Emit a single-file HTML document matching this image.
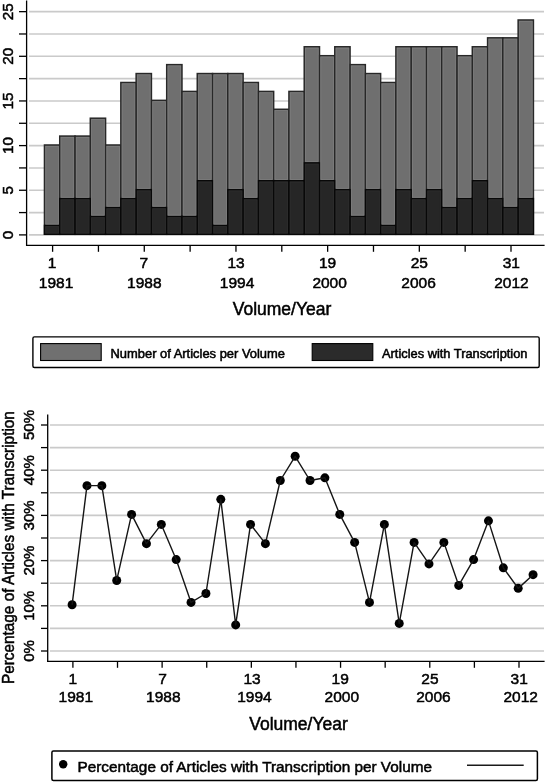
<!DOCTYPE html><html><head><meta charset="utf-8"><title>Articles with Transcription</title>
<style>html,body{margin:0;padding:0;background:#fff;}svg{display:block;} text{font-family:'Liberation Sans',Arial,Helvetica,sans-serif;fill:#000;stroke:#000;stroke-width:0.5px;}</style></head><body>
<svg width="545" height="782" viewBox="0 0 545 782">
<line x1="29" y1="234.90" x2="544" y2="234.90" stroke="#cacaca" stroke-width="1.6"/>
<line x1="29" y1="212.58" x2="544" y2="212.58" stroke="#cacaca" stroke-width="1.6"/>
<line x1="29" y1="190.25" x2="544" y2="190.25" stroke="#cacaca" stroke-width="1.6"/>
<line x1="29" y1="167.93" x2="544" y2="167.93" stroke="#cacaca" stroke-width="1.6"/>
<line x1="29" y1="145.60" x2="544" y2="145.60" stroke="#cacaca" stroke-width="1.6"/>
<line x1="29" y1="123.28" x2="544" y2="123.28" stroke="#cacaca" stroke-width="1.6"/>
<line x1="29" y1="100.95" x2="544" y2="100.95" stroke="#cacaca" stroke-width="1.6"/>
<line x1="29" y1="78.62" x2="544" y2="78.62" stroke="#cacaca" stroke-width="1.6"/>
<line x1="29" y1="56.30" x2="544" y2="56.30" stroke="#cacaca" stroke-width="1.6"/>
<line x1="29" y1="33.98" x2="544" y2="33.98" stroke="#cacaca" stroke-width="1.6"/>
<line x1="29" y1="11.65" x2="544" y2="11.65" stroke="#cacaca" stroke-width="1.6"/>
<rect x="44.46" y="145.00" width="15.28" height="89.30" fill="#6f6f6f" stroke="#282828" stroke-width="1.5"/>
<rect x="59.74" y="136.07" width="15.28" height="98.23" fill="#6f6f6f" stroke="#282828" stroke-width="1.5"/>
<rect x="75.02" y="136.07" width="15.28" height="98.23" fill="#6f6f6f" stroke="#282828" stroke-width="1.5"/>
<rect x="90.30" y="118.21" width="15.28" height="116.09" fill="#6f6f6f" stroke="#282828" stroke-width="1.5"/>
<rect x="105.58" y="145.00" width="15.28" height="89.30" fill="#6f6f6f" stroke="#282828" stroke-width="1.5"/>
<rect x="120.86" y="82.49" width="15.28" height="151.81" fill="#6f6f6f" stroke="#282828" stroke-width="1.5"/>
<rect x="136.14" y="73.56" width="15.28" height="160.74" fill="#6f6f6f" stroke="#282828" stroke-width="1.5"/>
<rect x="151.42" y="100.35" width="15.28" height="133.95" fill="#6f6f6f" stroke="#282828" stroke-width="1.5"/>
<rect x="166.70" y="64.63" width="15.28" height="169.67" fill="#6f6f6f" stroke="#282828" stroke-width="1.5"/>
<rect x="181.98" y="91.42" width="15.28" height="142.88" fill="#6f6f6f" stroke="#282828" stroke-width="1.5"/>
<rect x="197.26" y="73.56" width="15.28" height="160.74" fill="#6f6f6f" stroke="#282828" stroke-width="1.5"/>
<rect x="212.54" y="73.56" width="15.28" height="160.74" fill="#6f6f6f" stroke="#282828" stroke-width="1.5"/>
<rect x="227.82" y="73.56" width="15.28" height="160.74" fill="#6f6f6f" stroke="#282828" stroke-width="1.5"/>
<rect x="243.10" y="82.49" width="15.28" height="151.81" fill="#6f6f6f" stroke="#282828" stroke-width="1.5"/>
<rect x="258.38" y="91.42" width="15.28" height="142.88" fill="#6f6f6f" stroke="#282828" stroke-width="1.5"/>
<rect x="273.66" y="109.28" width="15.28" height="125.02" fill="#6f6f6f" stroke="#282828" stroke-width="1.5"/>
<rect x="288.94" y="91.42" width="15.28" height="142.88" fill="#6f6f6f" stroke="#282828" stroke-width="1.5"/>
<rect x="304.22" y="46.77" width="15.28" height="187.53" fill="#6f6f6f" stroke="#282828" stroke-width="1.5"/>
<rect x="319.50" y="55.70" width="15.28" height="178.60" fill="#6f6f6f" stroke="#282828" stroke-width="1.5"/>
<rect x="334.78" y="46.77" width="15.28" height="187.53" fill="#6f6f6f" stroke="#282828" stroke-width="1.5"/>
<rect x="350.06" y="64.63" width="15.28" height="169.67" fill="#6f6f6f" stroke="#282828" stroke-width="1.5"/>
<rect x="365.34" y="73.56" width="15.28" height="160.74" fill="#6f6f6f" stroke="#282828" stroke-width="1.5"/>
<rect x="380.62" y="82.49" width="15.28" height="151.81" fill="#6f6f6f" stroke="#282828" stroke-width="1.5"/>
<rect x="395.90" y="46.77" width="15.28" height="187.53" fill="#6f6f6f" stroke="#282828" stroke-width="1.5"/>
<rect x="411.18" y="46.77" width="15.28" height="187.53" fill="#6f6f6f" stroke="#282828" stroke-width="1.5"/>
<rect x="426.46" y="46.77" width="15.28" height="187.53" fill="#6f6f6f" stroke="#282828" stroke-width="1.5"/>
<rect x="441.74" y="46.77" width="15.28" height="187.53" fill="#6f6f6f" stroke="#282828" stroke-width="1.5"/>
<rect x="457.02" y="55.70" width="15.28" height="178.60" fill="#6f6f6f" stroke="#282828" stroke-width="1.5"/>
<rect x="472.30" y="46.77" width="15.28" height="187.53" fill="#6f6f6f" stroke="#282828" stroke-width="1.5"/>
<rect x="487.58" y="37.84" width="15.28" height="196.46" fill="#6f6f6f" stroke="#282828" stroke-width="1.5"/>
<rect x="502.86" y="37.84" width="15.28" height="196.46" fill="#6f6f6f" stroke="#282828" stroke-width="1.5"/>
<rect x="518.14" y="19.98" width="15.28" height="214.32" fill="#6f6f6f" stroke="#282828" stroke-width="1.5"/>
<rect x="44.46" y="225.37" width="15.28" height="8.93" fill="#262626" stroke="#080808" stroke-width="1.4"/>
<rect x="59.74" y="198.58" width="15.28" height="35.72" fill="#262626" stroke="#080808" stroke-width="1.4"/>
<rect x="75.02" y="198.58" width="15.28" height="35.72" fill="#262626" stroke="#080808" stroke-width="1.4"/>
<rect x="90.30" y="216.44" width="15.28" height="17.86" fill="#262626" stroke="#080808" stroke-width="1.4"/>
<rect x="105.58" y="207.51" width="15.28" height="26.79" fill="#262626" stroke="#080808" stroke-width="1.4"/>
<rect x="120.86" y="198.58" width="15.28" height="35.72" fill="#262626" stroke="#080808" stroke-width="1.4"/>
<rect x="136.14" y="189.65" width="15.28" height="44.65" fill="#262626" stroke="#080808" stroke-width="1.4"/>
<rect x="151.42" y="207.51" width="15.28" height="26.79" fill="#262626" stroke="#080808" stroke-width="1.4"/>
<rect x="166.70" y="216.44" width="15.28" height="17.86" fill="#262626" stroke="#080808" stroke-width="1.4"/>
<rect x="181.98" y="216.44" width="15.28" height="17.86" fill="#262626" stroke="#080808" stroke-width="1.4"/>
<rect x="197.26" y="180.72" width="15.28" height="53.58" fill="#262626" stroke="#080808" stroke-width="1.4"/>
<rect x="212.54" y="225.37" width="15.28" height="8.93" fill="#262626" stroke="#080808" stroke-width="1.4"/>
<rect x="227.82" y="189.65" width="15.28" height="44.65" fill="#262626" stroke="#080808" stroke-width="1.4"/>
<rect x="243.10" y="198.58" width="15.28" height="35.72" fill="#262626" stroke="#080808" stroke-width="1.4"/>
<rect x="258.38" y="180.72" width="15.28" height="53.58" fill="#262626" stroke="#080808" stroke-width="1.4"/>
<rect x="273.66" y="180.72" width="15.28" height="53.58" fill="#262626" stroke="#080808" stroke-width="1.4"/>
<rect x="288.94" y="180.72" width="15.28" height="53.58" fill="#262626" stroke="#080808" stroke-width="1.4"/>
<rect x="304.22" y="162.86" width="15.28" height="71.44" fill="#262626" stroke="#080808" stroke-width="1.4"/>
<rect x="319.50" y="180.72" width="15.28" height="53.58" fill="#262626" stroke="#080808" stroke-width="1.4"/>
<rect x="334.78" y="189.65" width="15.28" height="44.65" fill="#262626" stroke="#080808" stroke-width="1.4"/>
<rect x="350.06" y="216.44" width="15.28" height="17.86" fill="#262626" stroke="#080808" stroke-width="1.4"/>
<rect x="365.34" y="189.65" width="15.28" height="44.65" fill="#262626" stroke="#080808" stroke-width="1.4"/>
<rect x="380.62" y="225.37" width="15.28" height="8.93" fill="#262626" stroke="#080808" stroke-width="1.4"/>
<rect x="395.90" y="189.65" width="15.28" height="44.65" fill="#262626" stroke="#080808" stroke-width="1.4"/>
<rect x="411.18" y="198.58" width="15.28" height="35.72" fill="#262626" stroke="#080808" stroke-width="1.4"/>
<rect x="426.46" y="189.65" width="15.28" height="44.65" fill="#262626" stroke="#080808" stroke-width="1.4"/>
<rect x="441.74" y="207.51" width="15.28" height="26.79" fill="#262626" stroke="#080808" stroke-width="1.4"/>
<rect x="457.02" y="198.58" width="15.28" height="35.72" fill="#262626" stroke="#080808" stroke-width="1.4"/>
<rect x="472.30" y="180.72" width="15.28" height="53.58" fill="#262626" stroke="#080808" stroke-width="1.4"/>
<rect x="487.58" y="198.58" width="15.28" height="35.72" fill="#262626" stroke="#080808" stroke-width="1.4"/>
<rect x="502.86" y="207.51" width="15.28" height="26.79" fill="#262626" stroke="#080808" stroke-width="1.4"/>
<rect x="518.14" y="198.58" width="15.28" height="35.72" fill="#262626" stroke="#080808" stroke-width="1.4"/>
<rect x="45.81" y="146.35" width="12.58" height="77.67" fill="none" stroke="#7d7d7d" stroke-width="0.8"/>
<rect x="45.81" y="226.72" width="12.58" height="6.23" fill="none" stroke="#2d2d2d" stroke-width="0.8"/>
<rect x="61.09" y="137.42" width="12.58" height="59.81" fill="none" stroke="#7d7d7d" stroke-width="0.8"/>
<rect x="61.09" y="199.93" width="12.58" height="33.02" fill="none" stroke="#2d2d2d" stroke-width="0.8"/>
<rect x="76.37" y="137.42" width="12.58" height="59.81" fill="none" stroke="#7d7d7d" stroke-width="0.8"/>
<rect x="76.37" y="199.93" width="12.58" height="33.02" fill="none" stroke="#2d2d2d" stroke-width="0.8"/>
<rect x="91.65" y="119.56" width="12.58" height="95.53" fill="none" stroke="#7d7d7d" stroke-width="0.8"/>
<rect x="91.65" y="217.79" width="12.58" height="15.16" fill="none" stroke="#2d2d2d" stroke-width="0.8"/>
<rect x="106.93" y="146.35" width="12.58" height="59.81" fill="none" stroke="#7d7d7d" stroke-width="0.8"/>
<rect x="106.93" y="208.86" width="12.58" height="24.09" fill="none" stroke="#2d2d2d" stroke-width="0.8"/>
<rect x="122.21" y="83.84" width="12.58" height="113.39" fill="none" stroke="#7d7d7d" stroke-width="0.8"/>
<rect x="122.21" y="199.93" width="12.58" height="33.02" fill="none" stroke="#2d2d2d" stroke-width="0.8"/>
<rect x="137.49" y="74.91" width="12.58" height="113.39" fill="none" stroke="#7d7d7d" stroke-width="0.8"/>
<rect x="137.49" y="191.00" width="12.58" height="41.95" fill="none" stroke="#2d2d2d" stroke-width="0.8"/>
<rect x="152.77" y="101.70" width="12.58" height="104.46" fill="none" stroke="#7d7d7d" stroke-width="0.8"/>
<rect x="152.77" y="208.86" width="12.58" height="24.09" fill="none" stroke="#2d2d2d" stroke-width="0.8"/>
<rect x="168.05" y="65.98" width="12.58" height="149.11" fill="none" stroke="#7d7d7d" stroke-width="0.8"/>
<rect x="168.05" y="217.79" width="12.58" height="15.16" fill="none" stroke="#2d2d2d" stroke-width="0.8"/>
<rect x="183.33" y="92.77" width="12.58" height="122.32" fill="none" stroke="#7d7d7d" stroke-width="0.8"/>
<rect x="183.33" y="217.79" width="12.58" height="15.16" fill="none" stroke="#2d2d2d" stroke-width="0.8"/>
<rect x="198.61" y="74.91" width="12.58" height="104.46" fill="none" stroke="#7d7d7d" stroke-width="0.8"/>
<rect x="198.61" y="182.07" width="12.58" height="50.88" fill="none" stroke="#2d2d2d" stroke-width="0.8"/>
<rect x="213.89" y="74.91" width="12.58" height="149.11" fill="none" stroke="#7d7d7d" stroke-width="0.8"/>
<rect x="213.89" y="226.72" width="12.58" height="6.23" fill="none" stroke="#2d2d2d" stroke-width="0.8"/>
<rect x="229.17" y="74.91" width="12.58" height="113.39" fill="none" stroke="#7d7d7d" stroke-width="0.8"/>
<rect x="229.17" y="191.00" width="12.58" height="41.95" fill="none" stroke="#2d2d2d" stroke-width="0.8"/>
<rect x="244.45" y="83.84" width="12.58" height="113.39" fill="none" stroke="#7d7d7d" stroke-width="0.8"/>
<rect x="244.45" y="199.93" width="12.58" height="33.02" fill="none" stroke="#2d2d2d" stroke-width="0.8"/>
<rect x="259.73" y="92.77" width="12.58" height="86.60" fill="none" stroke="#7d7d7d" stroke-width="0.8"/>
<rect x="259.73" y="182.07" width="12.58" height="50.88" fill="none" stroke="#2d2d2d" stroke-width="0.8"/>
<rect x="275.01" y="110.63" width="12.58" height="68.74" fill="none" stroke="#7d7d7d" stroke-width="0.8"/>
<rect x="275.01" y="182.07" width="12.58" height="50.88" fill="none" stroke="#2d2d2d" stroke-width="0.8"/>
<rect x="290.29" y="92.77" width="12.58" height="86.60" fill="none" stroke="#7d7d7d" stroke-width="0.8"/>
<rect x="290.29" y="182.07" width="12.58" height="50.88" fill="none" stroke="#2d2d2d" stroke-width="0.8"/>
<rect x="305.57" y="48.12" width="12.58" height="113.39" fill="none" stroke="#7d7d7d" stroke-width="0.8"/>
<rect x="305.57" y="164.21" width="12.58" height="68.74" fill="none" stroke="#2d2d2d" stroke-width="0.8"/>
<rect x="320.85" y="57.05" width="12.58" height="122.32" fill="none" stroke="#7d7d7d" stroke-width="0.8"/>
<rect x="320.85" y="182.07" width="12.58" height="50.88" fill="none" stroke="#2d2d2d" stroke-width="0.8"/>
<rect x="336.13" y="48.12" width="12.58" height="140.18" fill="none" stroke="#7d7d7d" stroke-width="0.8"/>
<rect x="336.13" y="191.00" width="12.58" height="41.95" fill="none" stroke="#2d2d2d" stroke-width="0.8"/>
<rect x="351.41" y="65.98" width="12.58" height="149.11" fill="none" stroke="#7d7d7d" stroke-width="0.8"/>
<rect x="351.41" y="217.79" width="12.58" height="15.16" fill="none" stroke="#2d2d2d" stroke-width="0.8"/>
<rect x="366.69" y="74.91" width="12.58" height="113.39" fill="none" stroke="#7d7d7d" stroke-width="0.8"/>
<rect x="366.69" y="191.00" width="12.58" height="41.95" fill="none" stroke="#2d2d2d" stroke-width="0.8"/>
<rect x="381.97" y="83.84" width="12.58" height="140.18" fill="none" stroke="#7d7d7d" stroke-width="0.8"/>
<rect x="381.97" y="226.72" width="12.58" height="6.23" fill="none" stroke="#2d2d2d" stroke-width="0.8"/>
<rect x="397.25" y="48.12" width="12.58" height="140.18" fill="none" stroke="#7d7d7d" stroke-width="0.8"/>
<rect x="397.25" y="191.00" width="12.58" height="41.95" fill="none" stroke="#2d2d2d" stroke-width="0.8"/>
<rect x="412.53" y="48.12" width="12.58" height="149.11" fill="none" stroke="#7d7d7d" stroke-width="0.8"/>
<rect x="412.53" y="199.93" width="12.58" height="33.02" fill="none" stroke="#2d2d2d" stroke-width="0.8"/>
<rect x="427.81" y="48.12" width="12.58" height="140.18" fill="none" stroke="#7d7d7d" stroke-width="0.8"/>
<rect x="427.81" y="191.00" width="12.58" height="41.95" fill="none" stroke="#2d2d2d" stroke-width="0.8"/>
<rect x="443.09" y="48.12" width="12.58" height="158.04" fill="none" stroke="#7d7d7d" stroke-width="0.8"/>
<rect x="443.09" y="208.86" width="12.58" height="24.09" fill="none" stroke="#2d2d2d" stroke-width="0.8"/>
<rect x="458.37" y="57.05" width="12.58" height="140.18" fill="none" stroke="#7d7d7d" stroke-width="0.8"/>
<rect x="458.37" y="199.93" width="12.58" height="33.02" fill="none" stroke="#2d2d2d" stroke-width="0.8"/>
<rect x="473.65" y="48.12" width="12.58" height="131.25" fill="none" stroke="#7d7d7d" stroke-width="0.8"/>
<rect x="473.65" y="182.07" width="12.58" height="50.88" fill="none" stroke="#2d2d2d" stroke-width="0.8"/>
<rect x="488.93" y="39.19" width="12.58" height="158.04" fill="none" stroke="#7d7d7d" stroke-width="0.8"/>
<rect x="488.93" y="199.93" width="12.58" height="33.02" fill="none" stroke="#2d2d2d" stroke-width="0.8"/>
<rect x="504.21" y="39.19" width="12.58" height="166.97" fill="none" stroke="#7d7d7d" stroke-width="0.8"/>
<rect x="504.21" y="208.86" width="12.58" height="24.09" fill="none" stroke="#2d2d2d" stroke-width="0.8"/>
<rect x="519.49" y="21.33" width="12.58" height="175.90" fill="none" stroke="#7d7d7d" stroke-width="0.8"/>
<rect x="519.49" y="199.93" width="12.58" height="33.02" fill="none" stroke="#2d2d2d" stroke-width="0.8"/>
<line x1="26.6" y1="0.5" x2="26.6" y2="245.9" stroke="#000" stroke-width="1.3"/>
<line x1="26.0" y1="245.3" x2="544.6" y2="245.3" stroke="#000" stroke-width="1.3"/>
<line x1="19" y1="234.90" x2="26.6" y2="234.90" stroke="#000" stroke-width="1.3"/>
<line x1="19" y1="212.58" x2="26.6" y2="212.58" stroke="#000" stroke-width="1.3"/>
<line x1="19" y1="190.25" x2="26.6" y2="190.25" stroke="#000" stroke-width="1.3"/>
<line x1="19" y1="167.93" x2="26.6" y2="167.93" stroke="#000" stroke-width="1.3"/>
<line x1="19" y1="145.60" x2="26.6" y2="145.60" stroke="#000" stroke-width="1.3"/>
<line x1="19" y1="123.28" x2="26.6" y2="123.28" stroke="#000" stroke-width="1.3"/>
<line x1="19" y1="100.95" x2="26.6" y2="100.95" stroke="#000" stroke-width="1.3"/>
<line x1="19" y1="78.62" x2="26.6" y2="78.62" stroke="#000" stroke-width="1.3"/>
<line x1="19" y1="56.30" x2="26.6" y2="56.30" stroke="#000" stroke-width="1.3"/>
<line x1="19" y1="33.98" x2="26.6" y2="33.98" stroke="#000" stroke-width="1.3"/>
<line x1="19" y1="11.65" x2="26.6" y2="11.65" stroke="#000" stroke-width="1.3"/>
<line x1="52.60" y1="245.3" x2="52.60" y2="251.8" stroke="#000" stroke-width="1.3"/>
<line x1="98.44" y1="245.3" x2="98.44" y2="251.8" stroke="#000" stroke-width="1.3"/>
<line x1="144.28" y1="245.3" x2="144.28" y2="251.8" stroke="#000" stroke-width="1.3"/>
<line x1="190.12" y1="245.3" x2="190.12" y2="251.8" stroke="#000" stroke-width="1.3"/>
<line x1="235.96" y1="245.3" x2="235.96" y2="251.8" stroke="#000" stroke-width="1.3"/>
<line x1="281.80" y1="245.3" x2="281.80" y2="251.8" stroke="#000" stroke-width="1.3"/>
<line x1="327.64" y1="245.3" x2="327.64" y2="251.8" stroke="#000" stroke-width="1.3"/>
<line x1="373.48" y1="245.3" x2="373.48" y2="251.8" stroke="#000" stroke-width="1.3"/>
<line x1="419.32" y1="245.3" x2="419.32" y2="251.8" stroke="#000" stroke-width="1.3"/>
<line x1="465.16" y1="245.3" x2="465.16" y2="251.8" stroke="#000" stroke-width="1.3"/>
<line x1="511.00" y1="245.3" x2="511.00" y2="251.8" stroke="#000" stroke-width="1.3"/>
<text transform="translate(12.6,234.90) rotate(-90)" text-anchor="middle" font-size="15.3">0</text>
<text transform="translate(12.6,190.25) rotate(-90)" text-anchor="middle" font-size="15.3">5</text>
<text transform="translate(12.6,145.60) rotate(-90)" text-anchor="middle" font-size="15.3">10</text>
<text transform="translate(12.6,100.95) rotate(-90)" text-anchor="middle" font-size="15.3">15</text>
<text transform="translate(12.6,56.30) rotate(-90)" text-anchor="middle" font-size="15.3">20</text>
<text transform="translate(12.6,11.65) rotate(-90)" text-anchor="middle" font-size="15.3">25</text>
<text x="52.11" y="268" text-anchor="middle" font-size="15.5">1</text>
<text x="56.01" y="288" text-anchor="middle" font-size="15.5">1981</text>
<text x="143.84" y="268" text-anchor="middle" font-size="15.5">7</text>
<text x="144.26" y="288" text-anchor="middle" font-size="15.5">1988</text>
<text x="236.06" y="268" text-anchor="middle" font-size="15.5">13</text>
<text x="237.10" y="288" text-anchor="middle" font-size="15.5">1994</text>
<text x="327.64" y="268" text-anchor="middle" font-size="15.5">19</text>
<text x="329.62" y="288" text-anchor="middle" font-size="15.5">2000</text>
<text x="419.39" y="268" text-anchor="middle" font-size="15.5">25</text>
<text x="418.60" y="288" text-anchor="middle" font-size="15.5">2006</text>
<text x="511.34" y="268" text-anchor="middle" font-size="15.5">31</text>
<text x="511.50" y="288" text-anchor="middle" font-size="15.5">2012</text>
<text x="282" y="315.2" text-anchor="middle" font-size="17.5">Volume/Year</text>
<rect x="32.9" y="336.9" width="506.3" height="30.6" rx="1.5" fill="none" stroke="#000" stroke-width="1.4"/>
<rect x="40.6" y="343.6" width="60.6" height="16.9" fill="#707070" stroke="#000" stroke-width="1.1"/>
<rect x="312.2" y="343.6" width="60.6" height="16.9" fill="#2b2b2b" stroke="#000" stroke-width="1.1"/>
<text x="110.5" y="358" font-size="12.2" textLength="174.5" lengthAdjust="spacingAndGlyphs">Number of Articles per Volume</text>
<text x="382" y="357.8" font-size="12.2" textLength="145.5" lengthAdjust="spacingAndGlyphs">Articles with Transcription</text>
<line x1="50" y1="651.00" x2="544" y2="651.00" stroke="#cacaca" stroke-width="1.6"/>
<line x1="50" y1="628.40" x2="544" y2="628.40" stroke="#cacaca" stroke-width="1.6"/>
<line x1="50" y1="605.80" x2="544" y2="605.80" stroke="#cacaca" stroke-width="1.6"/>
<line x1="50" y1="583.20" x2="544" y2="583.20" stroke="#cacaca" stroke-width="1.6"/>
<line x1="50" y1="560.60" x2="544" y2="560.60" stroke="#cacaca" stroke-width="1.6"/>
<line x1="50" y1="538.00" x2="544" y2="538.00" stroke="#cacaca" stroke-width="1.6"/>
<line x1="50" y1="515.40" x2="544" y2="515.40" stroke="#cacaca" stroke-width="1.6"/>
<line x1="50" y1="492.80" x2="544" y2="492.80" stroke="#cacaca" stroke-width="1.6"/>
<line x1="50" y1="470.20" x2="544" y2="470.20" stroke="#cacaca" stroke-width="1.6"/>
<line x1="50" y1="447.60" x2="544" y2="447.60" stroke="#cacaca" stroke-width="1.6"/>
<line x1="50" y1="425.00" x2="544" y2="425.00" stroke="#cacaca" stroke-width="1.6"/>
<line x1="47.7" y1="414.5" x2="47.7" y2="661.9" stroke="#000" stroke-width="1.3"/>
<line x1="47.1" y1="661.3" x2="544.6" y2="661.3" stroke="#000" stroke-width="1.3"/>
<line x1="41" y1="651.00" x2="47.7" y2="651.00" stroke="#000" stroke-width="1.3"/>
<line x1="41" y1="628.40" x2="47.7" y2="628.40" stroke="#000" stroke-width="1.3"/>
<line x1="41" y1="605.80" x2="47.7" y2="605.80" stroke="#000" stroke-width="1.3"/>
<line x1="41" y1="583.20" x2="47.7" y2="583.20" stroke="#000" stroke-width="1.3"/>
<line x1="41" y1="560.60" x2="47.7" y2="560.60" stroke="#000" stroke-width="1.3"/>
<line x1="41" y1="538.00" x2="47.7" y2="538.00" stroke="#000" stroke-width="1.3"/>
<line x1="41" y1="515.40" x2="47.7" y2="515.40" stroke="#000" stroke-width="1.3"/>
<line x1="41" y1="492.80" x2="47.7" y2="492.80" stroke="#000" stroke-width="1.3"/>
<line x1="41" y1="470.20" x2="47.7" y2="470.20" stroke="#000" stroke-width="1.3"/>
<line x1="41" y1="447.60" x2="47.7" y2="447.60" stroke="#000" stroke-width="1.3"/>
<line x1="41" y1="425.00" x2="47.7" y2="425.00" stroke="#000" stroke-width="1.3"/>
<line x1="72.90" y1="661.3" x2="72.90" y2="667.8" stroke="#000" stroke-width="1.3"/>
<line x1="117.51" y1="661.3" x2="117.51" y2="667.8" stroke="#000" stroke-width="1.3"/>
<line x1="162.12" y1="661.3" x2="162.12" y2="667.8" stroke="#000" stroke-width="1.3"/>
<line x1="206.73" y1="661.3" x2="206.73" y2="667.8" stroke="#000" stroke-width="1.3"/>
<line x1="251.34" y1="661.3" x2="251.34" y2="667.8" stroke="#000" stroke-width="1.3"/>
<line x1="295.95" y1="661.3" x2="295.95" y2="667.8" stroke="#000" stroke-width="1.3"/>
<line x1="340.56" y1="661.3" x2="340.56" y2="667.8" stroke="#000" stroke-width="1.3"/>
<line x1="385.17" y1="661.3" x2="385.17" y2="667.8" stroke="#000" stroke-width="1.3"/>
<line x1="429.78" y1="661.3" x2="429.78" y2="667.8" stroke="#000" stroke-width="1.3"/>
<line x1="474.39" y1="661.3" x2="474.39" y2="667.8" stroke="#000" stroke-width="1.3"/>
<line x1="519.00" y1="661.3" x2="519.00" y2="667.8" stroke="#000" stroke-width="1.3"/>
<text transform="translate(34.4,651.00) rotate(-90)" text-anchor="middle" font-size="15">0%</text>
<text transform="translate(34.4,605.80) rotate(-90)" text-anchor="middle" font-size="15">10%</text>
<text transform="translate(34.4,560.60) rotate(-90)" text-anchor="middle" font-size="15">20%</text>
<text transform="translate(34.4,515.40) rotate(-90)" text-anchor="middle" font-size="15">30%</text>
<text transform="translate(34.4,470.20) rotate(-90)" text-anchor="middle" font-size="15">40%</text>
<text transform="translate(34.4,425.00) rotate(-90)" text-anchor="middle" font-size="15">50%</text>
<text transform="translate(13.6,547.6) rotate(-90)" text-anchor="middle" font-size="16" textLength="273" lengthAdjust="spacingAndGlyphs">Percentage of Articles with Transcription</text>
<text x="72.76" y="684" text-anchor="middle" font-size="15.5">1</text>
<text x="75.76" y="702" text-anchor="middle" font-size="15.5">1981</text>
<text x="162.44" y="684" text-anchor="middle" font-size="15.5">7</text>
<text x="163.36" y="702" text-anchor="middle" font-size="15.5">1988</text>
<text x="252.01" y="684" text-anchor="middle" font-size="15.5">13</text>
<text x="254.40" y="702" text-anchor="middle" font-size="15.5">1994</text>
<text x="340.19" y="684" text-anchor="middle" font-size="15.5">19</text>
<text x="341.77" y="702" text-anchor="middle" font-size="15.5">2000</text>
<text x="429.94" y="684" text-anchor="middle" font-size="15.5">25</text>
<text x="433.40" y="702" text-anchor="middle" font-size="15.5">2006</text>
<text x="519.24" y="684" text-anchor="middle" font-size="15.5">31</text>
<text x="520.70" y="702" text-anchor="middle" font-size="15.5">2012</text>
<text x="298.5" y="730.2" text-anchor="middle" font-size="17.5">Volume/Year</text>
<circle cx="72.10" cy="604.80" r="4.5" fill="#000"/>
<circle cx="86.97" cy="485.64" r="4.5" fill="#000"/>
<circle cx="101.84" cy="485.64" r="4.5" fill="#000"/>
<circle cx="116.71" cy="580.46" r="4.5" fill="#000"/>
<circle cx="131.58" cy="514.40" r="4.5" fill="#000"/>
<circle cx="146.45" cy="543.65" r="4.5" fill="#000"/>
<circle cx="161.32" cy="524.44" r="4.5" fill="#000"/>
<circle cx="176.19" cy="559.60" r="4.5" fill="#000"/>
<circle cx="191.06" cy="602.42" r="4.5" fill="#000"/>
<circle cx="205.93" cy="593.50" r="4.5" fill="#000"/>
<circle cx="220.80" cy="499.33" r="4.5" fill="#000"/>
<circle cx="235.67" cy="624.89" r="4.5" fill="#000"/>
<circle cx="250.54" cy="524.44" r="4.5" fill="#000"/>
<circle cx="265.41" cy="543.65" r="4.5" fill="#000"/>
<circle cx="280.28" cy="480.50" r="4.5" fill="#000"/>
<circle cx="295.15" cy="456.29" r="4.5" fill="#000"/>
<circle cx="310.02" cy="480.50" r="4.5" fill="#000"/>
<circle cx="324.89" cy="477.81" r="4.5" fill="#000"/>
<circle cx="339.76" cy="514.40" r="4.5" fill="#000"/>
<circle cx="354.63" cy="542.38" r="4.5" fill="#000"/>
<circle cx="369.50" cy="602.42" r="4.5" fill="#000"/>
<circle cx="384.37" cy="524.44" r="4.5" fill="#000"/>
<circle cx="399.24" cy="623.41" r="4.5" fill="#000"/>
<circle cx="414.11" cy="542.38" r="4.5" fill="#000"/>
<circle cx="428.98" cy="563.90" r="4.5" fill="#000"/>
<circle cx="443.85" cy="542.38" r="4.5" fill="#000"/>
<circle cx="458.72" cy="585.43" r="4.5" fill="#000"/>
<circle cx="473.59" cy="559.60" r="4.5" fill="#000"/>
<circle cx="488.46" cy="520.86" r="4.5" fill="#000"/>
<circle cx="503.33" cy="567.82" r="4.5" fill="#000"/>
<circle cx="518.20" cy="588.36" r="4.5" fill="#000"/>
<circle cx="533.07" cy="574.67" r="4.5" fill="#000"/>
<polyline fill="none" stroke="#151515" stroke-width="1.4" stroke-linejoin="round" points="72.10,604.80 86.97,485.64 101.84,485.64 116.71,580.46 131.58,514.40 146.45,543.65 161.32,524.44 176.19,559.60 191.06,602.42 205.93,593.50 220.80,499.33 235.67,624.89 250.54,524.44 265.41,543.65 280.28,480.50 295.15,456.29 310.02,480.50 324.89,477.81 339.76,514.40 354.63,542.38 369.50,602.42 384.37,524.44 399.24,623.41 414.11,542.38 428.98,563.90 443.85,542.38 458.72,585.43 473.59,559.60 488.46,520.86 503.33,567.82 518.20,588.36 533.07,574.67"/>
<rect x="51.9" y="751.1" width="485.5" height="29.4" rx="1.5" fill="none" stroke="#000" stroke-width="1.5"/>
<circle cx="63.2" cy="764.2" r="4.2" fill="#000"/>
<text x="77.5" y="772" font-size="15.4" textLength="354.5" lengthAdjust="spacingAndGlyphs">Percentage of Articles with Transcription per Volume</text>
<line x1="467" y1="765.2" x2="523.7" y2="765.2" stroke="#1a1a1a" stroke-width="1.4"/>
</svg></body></html>
